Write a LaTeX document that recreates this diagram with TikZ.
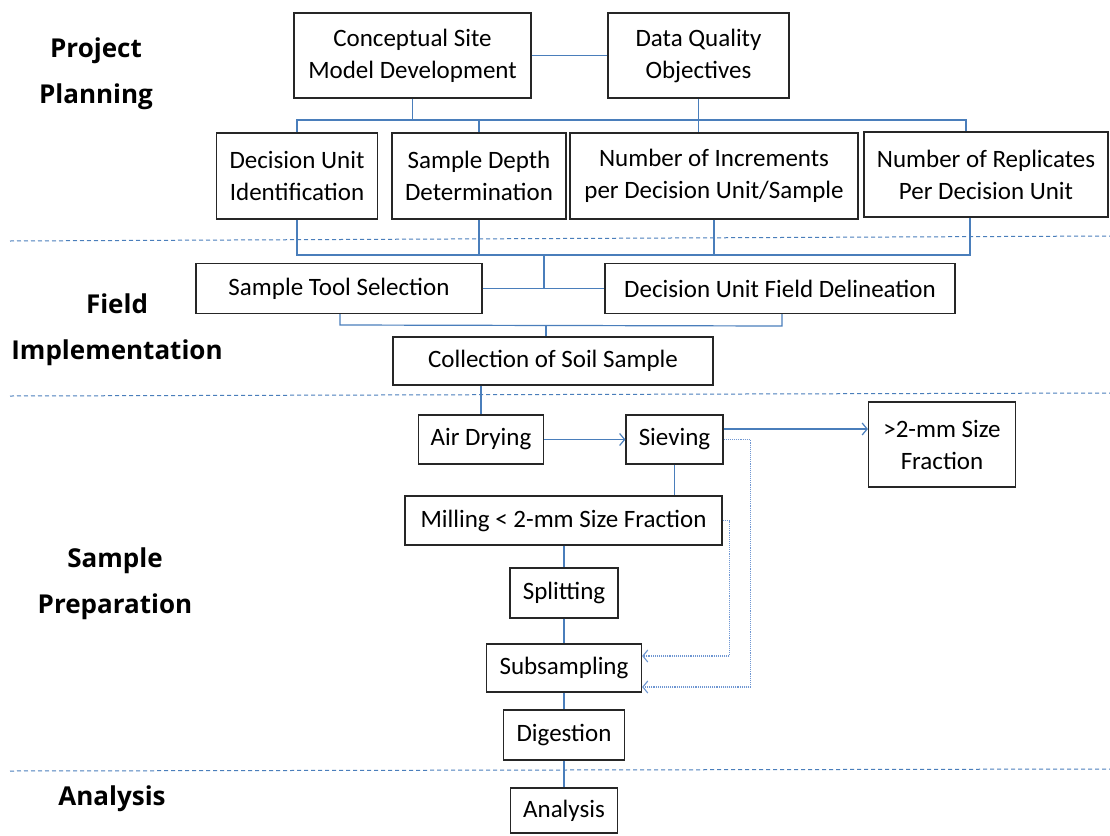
\documentclass[tikz,border=0pt]{standalone}
\usepackage{fontspec}
\setmainfont{Carlito}
\newfontfamily\labfont{Open Sans}
\usetikzlibrary{arrows.meta}
\definecolor{cblue}{RGB}{74,126,187}
\definecolor{dblue}{RGB}{110,150,210}
\begin{document}
\begin{tikzpicture}[x=1pt,y=-1pt,
 box/.style={draw=black!85, line width=1.2pt, inner sep=0pt, align=center, font=\fontsize{25}{32}\selectfont},
 conn/.style={draw=cblue, line width=1.2pt},
 tip/.style={-{Straight Barb[length=5pt,width=12pt]}},
 arr/.style={conn, tip},
 dots/.style={draw=dblue, line width=1.1pt, densely dotted, tip},
 sep/.style={draw=cblue, line width=1pt, dash pattern=on 4pt off 3pt},
 lab/.style={font=\labfont\bfseries\fontsize{26}{46}\selectfont, align=center}]
\useasboundingbox (0,0) rectangle (1110,835);

% separators
\draw[sep] (10,241) -- (1110,236);
\draw[sep] (10,396) -- (1110,393);
\draw[sep] (10,771) -- (1110,769);

% left labels
\node[lab] (pp) at (96,74) {Project\\Planning};
\node[lab] (fi) at (117,330) {Field\\Implementation};
\node[lab] (sp) at (115,584) {Sample\\Preparation};
\node[lab] (an) at (112,799) {Analysis};

% boxes
\node[box, minimum width=237pt, minimum height=85pt] (csm) at (412.5,55.5) {Conceptual Site\\Model Development};
\node[box, minimum width=181pt, minimum height=85pt] (dqo) at (698.5,55.5) {Data Quality\\Objectives};
\node[box, minimum width=161pt, minimum height=86pt] (dui) at (297,176) {Decision Unit\\Identification};
\node[box, minimum width=174pt, minimum height=86pt] (sdd) at (479,176) {Sample Depth\\Determination};
\node[box, minimum width=288pt, minimum height=86pt] (noi) at (714,176) {Number of Increments\\per Decision Unit/Sample};
\node[box, minimum width=244pt, minimum height=85pt] (nor) at (986,174.5) {Number of Replicates\\Per Decision Unit};
\node[box, minimum width=286pt, minimum height=50pt] (sts) at (339,288.5) {Sample Tool Selection};
\node[box, minimum width=350pt, minimum height=50pt] (dufd) at (780,288.5) {Decision Unit Field Delineation};
\node[box, minimum width=320pt, minimum height=48pt] (coll) at (553,361) {Collection of Soil Sample};
\node[box, minimum width=125pt, minimum height=49pt] (air) at (481,439.5) {Air Drying};
\node[box, minimum width=97pt, minimum height=49pt] (siev) at (674.5,439.5) {Sieving};
\node[box, minimum width=147pt, minimum height=85pt] (big) at (942,444.5) {>2-mm Size\\Fraction};
\node[box, minimum width=317pt, minimum height=49pt] (mill) at (563.5,520.5) {Milling < 2-mm Size Fraction};
\node[box, minimum width=108pt, minimum height=50pt] (split) at (564,593) {Splitting};
\node[box, minimum width=155pt, minimum height=48pt] (sub) at (564,668) {Subsampling};
\node[box, minimum width=121pt, minimum height=50pt] (dig) at (564,735) {Digestion};
\node[box, minimum width=107pt, minimum height=45pt] (ana) at (564,810.5) {Analysis};

% project planning connectors
\draw[conn] (csm) -- (dqo);
\coordinate (barL) at (297,120);
\coordinate (barR) at (966,120);
\draw[conn] (dui.north) -- (barL) -- (barR) -- (barR |- nor.north);
\draw[conn] (csm.south) -- (csm.south |- barL);
\draw[conn] (dqo.south) -- (dqo.south |- noi.north);
\draw[conn] (sdd.north) -- (sdd.north |- barL);

\coordinate (bbL) at (297,255);
\coordinate (bbR) at (970,255);
\coordinate (bbM) at (544,255);
\draw[conn] (dui.south) -- (bbL) -- (bbR) -- (bbR |- nor.south);
\draw[conn] (sdd.south) -- (sdd.south |- bbL);
\draw[conn] (noi.south) -- (noi.south |- bbL);
\draw[conn] (bbM) -- (bbM |- sts.east);
\draw[conn] (sts.east) -- (dufd.west);

\coordinate (lbL) at (340,325);
\coordinate (lbR) at (782,326);
\coordinate (lbM) at (546,325.5);
\draw[conn] (lbL |- sts.south) -- (lbL) -- (lbR) -- (lbR |- dufd.south);
\draw[conn] (lbM) -- (lbM |- coll.north);

% sample preparation
\draw[conn] (air.north |- coll.south) -- (air.north);
\draw[arr] (air.east) -- (siev.west);
\draw[arr] ([yshift=10.5pt]siev.east) -- ([yshift=10.5pt]siev.east -| big.west);
\draw[conn] (siev.south) -- (siev.south |- mill.north);
\draw[conn] (split.north |- mill.south) -- (split.north);
\draw[conn] (split) -- (sub);
\draw[conn] (sub) -- (dig);
\draw[conn] (dig) -- (ana);
\draw[dots] (mill.east) -- ++(7,0) |- ([yshift=12pt]sub.east);
\draw[dots] (siev.east) -- ++(26.5,0) |- ([yshift=-19pt]sub.east);
\end{tikzpicture}
\end{document}
